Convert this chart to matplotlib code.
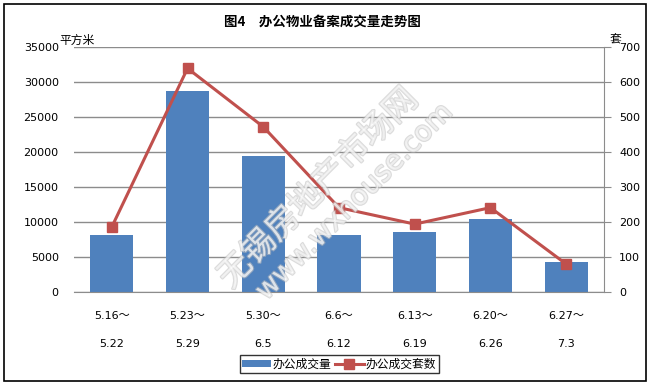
import matplotlib.pyplot as plt
import matplotlib.patheffects as pe
import numpy as np
from matplotlib.patches import Rectangle, Patch
from matplotlib.lines import Line2D

plt.rcParams['font.family'] = ['DejaVu Sans', 'Noto Sans CJK SC']

weeks = ['5.16～\n\n5.22', '5.23～\n\n5.29', '5.30～\n\n6.5', '6.6～\n\n6.12',
         '6.13～\n\n6.19', '6.20～\n\n6.26', '6.27～\n\n7.3']
area = [8150, 28700, 19450, 8150, 8600, 10450, 4350]   # 平方米
units = [186, 639, 472, 241, 194, 241, 80]            # 套

bar_color = '#4F81BD'
line_color = '#C0504D'
grid_color = '#8C8C8C'

fig = plt.figure(figsize=(6.5, 3.84), dpi=100)
fig.patches.append(Rectangle((0.006, 0.008), 0.988, 0.982, transform=fig.transFigure,
                             fill=False, edgecolor='black', linewidth=1.2))

ax = fig.add_axes([0.1138, 0.2396, 0.8154, 0.638])
x = np.arange(len(weeks))
ax.bar(x, area, width=0.57, color=bar_color, zorder=2)
ax.set_xlim(-0.5, len(weeks) - 0.5)
ax.set_ylim(0, 35000)
ax.set_yticks(np.arange(0, 35001, 5000))
ax.yaxis.grid(True, color=grid_color, linewidth=1)
ax.set_axisbelow(True)
for s in ['left', 'top', 'right']:
    ax.spines[s].set_visible(False)
ax.spines['bottom'].set_color(grid_color)
ax.tick_params(axis='y', length=0, pad=11, labelsize=8)
ax.tick_params(axis='x', length=0, pad=14, labelsize=8)
ax.set_xticks(x)
ax.set_xticklabels(weeks, linespacing=1.5)

ax2 = ax.twinx()
ax2.plot(x, units, color=line_color, linewidth=2.2, marker='s', markersize=6.5, zorder=3)
ax2.set_ylim(0, 700)
ax2.set_yticks(np.arange(0, 701, 100))
for s in ['left', 'top', 'bottom']:
    ax2.spines[s].set_visible(False)
ax2.spines['right'].set_color(grid_color)
ax2.tick_params(axis='y', length=5, color=grid_color, pad=6, labelsize=8)

# 水印 (outlined, faint)
wm_fx = [pe.Stroke(linewidth=1.6, foreground=(0.75, 0.75, 0.75, 0.55)), pe.Normal()]
fig.text(0.49, 0.51, '无锡房地产市场网', rotation=45, fontsize=24,
         color=(1, 1, 1, 0.55), ha='center', va='center',
         family=['Noto Sans CJK SC'], zorder=5, path_effects=wm_fx)
fig.text(0.545, 0.475, 'www.wxhouse.com', rotation=45, fontsize=20,
         color=(1, 1, 1, 0.55), ha='center', va='center', zorder=5, path_effects=wm_fx)

fig.text(0.496, 0.943, '图4　办公物业备案成交量走势图', ha='center', va='center',
         fontsize=9.7, fontweight='bold', family=['Noto Sans CJK SC'])
fig.text(0.092, 0.895, '平方米', ha='left', va='center', fontsize=8.5,
         family=['Noto Sans CJK SC'])
fig.text(0.938, 0.895, '套', ha='left', va='center', fontsize=8.5,
         family=['Noto Sans CJK SC'])

handles = [Patch(facecolor=bar_color),
           Line2D([0], [0], color=line_color, linewidth=2.2, marker='s', markersize=6.5)]
leg = fig.legend(handles, ['办公成交量', '办公成交套数'], loc='center',
                 bbox_to_anchor=(0.522, 0.052), ncol=2, frameon=True, fancybox=False,
                 edgecolor='black', prop={'family': 'Noto Sans CJK SC', 'size': 8.5},
                 handlelength=2.4, handleheight=0.5, columnspacing=0.3, handletextpad=0.2,
                 borderpad=0.2, borderaxespad=0)
leg.get_frame().set_linewidth(1)

fig.savefig('out.png', dpi=100)
